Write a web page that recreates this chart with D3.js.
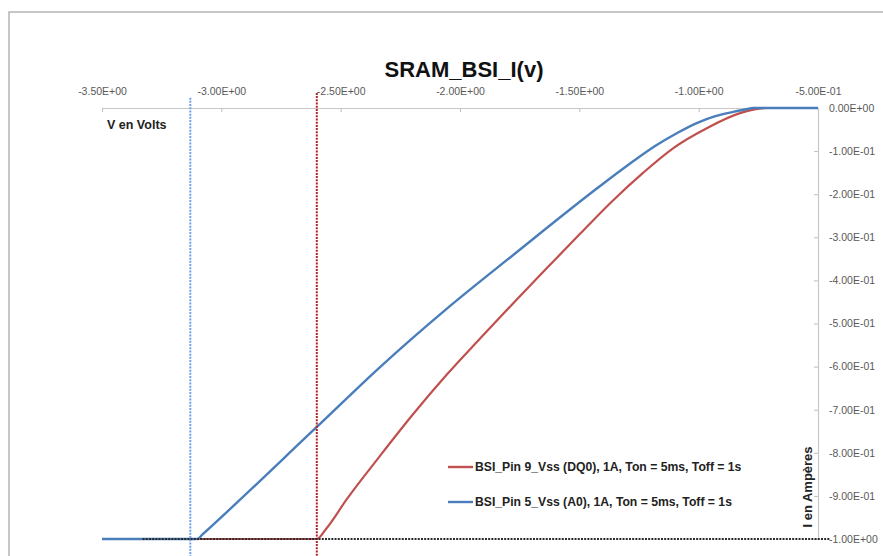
<!DOCTYPE html>
<html>
<head>
<meta charset="utf-8">
<script src="https://cdn.jsdelivr.net/npm/d3@7"></script>
<style>
  html, body { margin: 0; padding: 0; background: #ffffff; }
  svg { display: block; font-family: "Liberation Sans", Arial, sans-serif; }
</style>
</head>
<body>
<svg id="chart" width="883" height="556"></svg>
<script>
// ---------- data ----------
const title = "SRAM_BSI_I(v)";
const xAxisTitle = "V en Volts";
const yAxisTitle = "I en Ampères";

const xTickValues = [-3.5, -3.0, -2.5, -2.0, -1.5, -1.0, -0.5];
const yTickValues = [0, -0.1, -0.2, -0.3, -0.4, -0.5, -0.6, -0.7, -0.8, -0.9, -1.0];

const seriesNames = [
  "BSI_Pin 9_Vss (DQ0), 1A, Ton = 5ms, Toff = 1s",
  "BSI_Pin 5_Vss (A0), 1A, Ton = 5ms, Toff = 1s"
];

// Red series : Pin 9 (DQ0)
const redV = [-3.50, -2.600, -2.559, -2.475, -2.335, -2.196, -2.056, -1.916, -1.777, -1.637, -1.497, -1.358, -1.232, -1.106, -0.966, -0.827, -0.715, -0.50];
const redI = [-1.00, -1.000, -0.975, -0.908, -0.807, -0.710, -0.619, -0.535, -0.453, -0.372, -0.292, -0.214, -0.150, -0.093, -0.047, -0.012, 0.000, 0.000];

// Blue series : Pin 5 (A0)
const blueV = [-3.50, -3.10, -3.08, -2.600, -2.335, -2.056, -1.777, -1.413, -1.290, -1.176, -1.090, -1.008, -0.930, -0.855, -0.800, -0.772, -0.50];
const blueI = [-1.00, -1.00, -0.990, -0.740, -0.601, -0.466, -0.341, -0.181, -0.130, -0.086, -0.058, -0.035, -0.019, -0.009, -0.003, 0.000, 0.000];

// dotted marker lines
const markerVolts = [-3.13, -2.60];
const markerTops = [0.024, 0.035];
const markerBottom = -1.04;
const thresholdI = -1.0;
const thresholdSpan = [-3.33, -0.45];

// ---------- layout ----------
const svg = d3.select("#chart");
const W = 883, H = 556;
const x = d3.scaleLinear().domain([-3.5, -0.5]).range([102, 818]);
const y = d3.scaleLinear().domain([0, -1]).range([108, 539]);

const fmt = v => {
  if (Math.abs(v) < 1e-12) v = 0;
  let s = v.toExponential(2).toUpperCase();
  const m = s.match(/^(-?[\d.]+)E([+-])(\d+)$/);
  return m[1] + "E" + m[2] + m[3].padStart(2, "0");
};

// chart frame
svg.append("rect").attr("x", 9).attr("y", 12).attr("width", W + 10).attr("height", H + 10)
  .attr("fill", "#ffffff").attr("stroke", "#b4b4b4").attr("stroke-width", 1.5);

// title
svg.append("text").attr("x", 464).attr("y", 77).attr("text-anchor", "middle")
  .attr("font-size", 22).attr("font-weight", "bold").attr("fill", "#111").text(title);

// x axis (top, crossing at I = 0)
const xAxis = d3.axisBottom(x).tickValues(xTickValues).tickFormat(fmt).tickSizeInner(4).tickSizeOuter(0);
const gx = svg.append("g").attr("transform", `translate(0,${y(0)})`).call(xAxis);
gx.select(".domain").attr("stroke", "#c8c8c8").attr("stroke-width", 1.2);
gx.selectAll(".tick line").attr("stroke", "#bdbdbd");
gx.selectAll(".tick text").attr("y", -16).attr("dy", "0.32em")
  .attr("font-size", 10.5).attr("fill", "#595959").attr("font-family", "'Liberation Sans', Arial, sans-serif");

// y axis (right, crossing at V = -0.5)
const yAxis = d3.axisLeft(y).tickValues(yTickValues).tickFormat(fmt).tickSizeInner(4).tickSizeOuter(0);
const gy = svg.append("g").attr("transform", `translate(${x(-0.5)},0)`).call(yAxis);
gy.select(".domain").attr("stroke", "#c8c8c8").attr("stroke-width", 1.2);
gy.selectAll(".tick line").attr("stroke", "#bdbdbd");
gy.selectAll(".tick text").attr("x", 11).attr("text-anchor", "start")
  .attr("font-size", 10.5).attr("fill", "#595959").attr("font-family", "'Liberation Sans', Arial, sans-serif");

// axis titles
svg.append("text").attr("x", 107).attr("y", 129).attr("font-size", 12.5).attr("font-weight", "bold")
  .attr("fill", "#222").text(xAxisTitle);
svg.append("text").attr("transform", "translate(812,487) rotate(-90)").attr("text-anchor", "middle")
  .attr("font-size", 13).attr("font-weight", "bold").attr("fill", "#222").text(yAxisTitle);

// curves
const line = d3.line().x(d => x(d[0])).y(d => y(d[1])).curve(d3.curveMonotoneX);
const redData = redV.map((v, k) => [v, redI[k]]);
const blueData = blueV.map((v, k) => [v, blueI[k]]);
const colors = ["#c0504d", "#4a7ebb"];

svg.append("path").datum(redData).attr("d", line).attr("fill", "none")
  .attr("stroke", colors[0]).attr("stroke-width", 2.2).attr("stroke-linejoin", "round");
svg.append("path").datum(blueData).attr("d", line).attr("fill", "none")
  .attr("stroke", colors[1]).attr("stroke-width", 2.4).attr("stroke-linejoin", "round");

// dotted markers
const markerColors = ["#6f9fec", "#b22222"];
markerVolts.forEach((v, k) => {
  svg.append("line").attr("x1", x(v)).attr("x2", x(v)).attr("y1", y(markerTops[k])).attr("y2", y(markerBottom))
    .attr("stroke", markerColors[k]).attr("stroke-width", 2).attr("stroke-dasharray", "2,1.2");
});
svg.append("line").attr("x1", x(thresholdSpan[0])).attr("x2", x(thresholdSpan[1]))
  .attr("y1", y(thresholdI)).attr("y2", y(thresholdI))
  .attr("stroke", "#2a2a2a").attr("stroke-width", 2).attr("stroke-dasharray", "2,1.2");

// legend
const legend = svg.append("g").attr("transform", "translate(448,467)");
seriesNames.forEach((name, k) => {
  const g = legend.append("g").attr("transform", `translate(0,${k * 35})`);
  g.append("line").attr("x1", 0).attr("x2", 25).attr("y1", 0).attr("y2", 0)
    .attr("stroke", colors[k]).attr("stroke-width", 2.4);
  g.append("text").attr("x", 27).attr("y", 0).attr("dy", "0.35em").attr("font-size", 12.2)
    .attr("font-weight", "bold").attr("fill", "#222").text(name);
});
</script>
</body>
</html>
